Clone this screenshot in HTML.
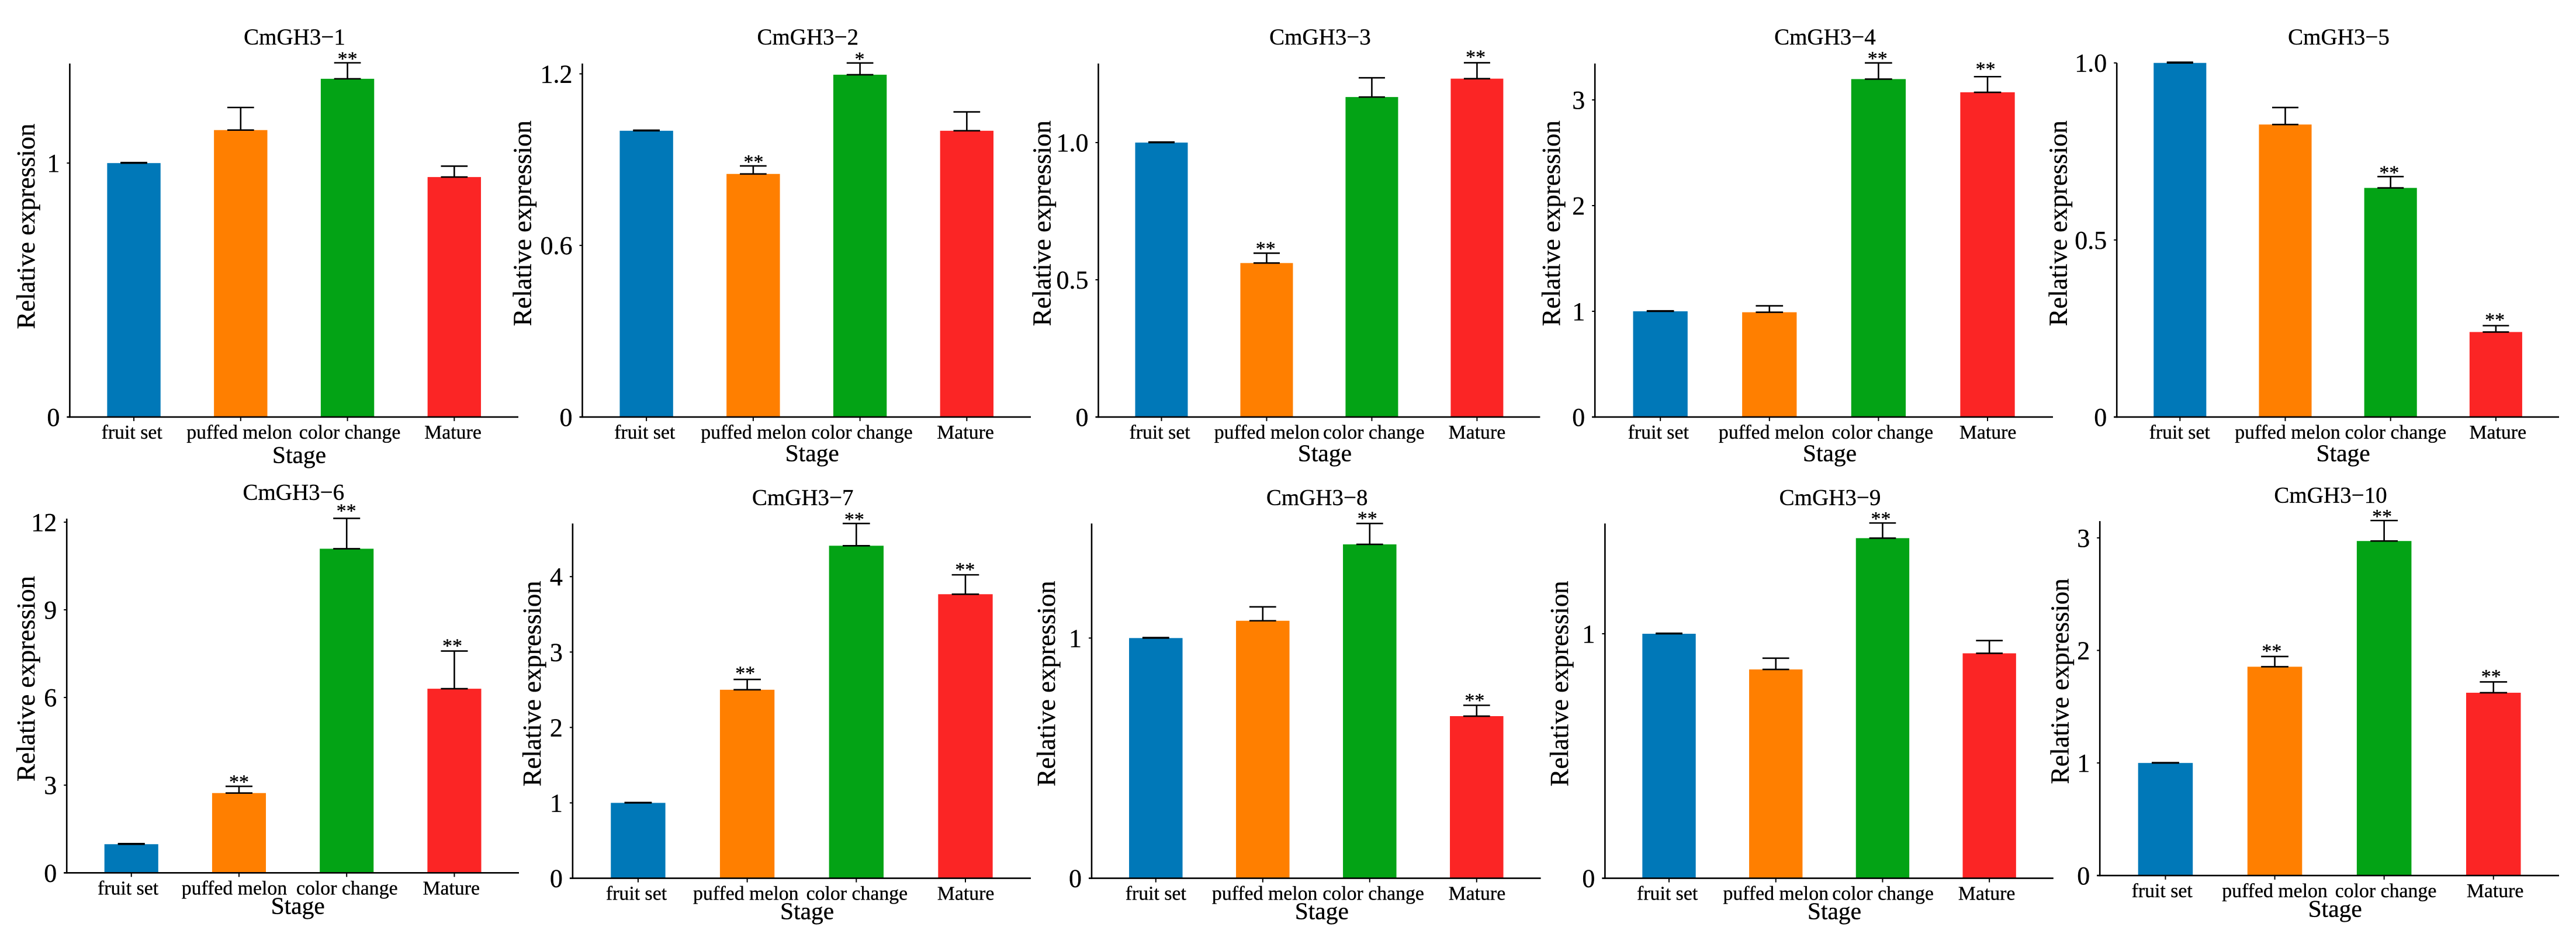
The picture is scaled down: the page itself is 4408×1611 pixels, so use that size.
<!DOCTYPE html>
<html lang="en">
<head>
<meta charset="utf-8">
<title>CmGH3 relative expression</title>
<style>
html,body{margin:0;padding:0;background:#fff;}
svg{display:block;}
text{font-family:"Liberation Serif",serif;fill:#000;stroke:#000;stroke-width:0.35px;}
</style>
</head>
<body>
<svg id="figure" xmlns="http://www.w3.org/2000/svg" width="4408" height="1611" viewBox="0 0 4408 1611">
<rect x="0" y="0" width="4408" height="1611" fill="#ffffff"></rect>
</svg>
<script>
// ---- chart data ----
const categories = ["fruit set", "puffed melon", "color change", "Mature"];
const barColors = ["#0078b8", "#ff7f00", "#03a315", "#fb2525"];
const geneNames = ["CmGH3\u22121","CmGH3\u22122","CmGH3\u22123","CmGH3\u22124","CmGH3\u22125","CmGH3\u22126","CmGH3\u22127","CmGH3\u22128","CmGH3\u22129","CmGH3\u221210"];

const means1 = [1, 1.13, 1.332, 0.945];
const means2 = [1.001, 0.85, 1.197, 1.001];
const means3 = [1, 0.561, 1.166, 1.233];
const means4 = [1, 0.991, 3.197, 3.072];
const means5 = [1, 0.826, 0.647, 0.24];
const means6 = [0.98, 2.73, 11.09, 6.3];
const means7 = [1, 2.5, 4.41, 3.767];
const means8 = [1, 1.072, 1.39, 0.675];
const means9 = [1, 0.854, 1.391, 0.92];
const means10 = [1, 1.855, 2.972, 1.624];

const upper1 = [1.002, 1.219, 1.395, 0.988];
const upper2 = [1.003, 0.878, 1.238, 1.067];
const upper3 = [1.002, 0.597, 1.236, 1.291];
const upper4 = [1.004, 1.052, 3.35, 3.22];
const upper5 = [1.002, 0.874, 0.679, 0.258];
const upper6 = [1, 2.96, 12.13, 7.59];
const upper7 = [1.004, 2.637, 4.705, 4.024];
const upper8 = [1.002, 1.13, 1.477, 0.72];
const upper9 = [1.002, 0.9, 1.453, 0.972];
const upper10 = [1.003, 1.946, 3.154, 1.72];

const sig1 = ["", "", "**", ""];
const sig2 = ["", "**", "*", ""];
const sig3 = ["", "**", "", "**"];
const sig4 = ["", "", "**", "**"];
const sig5 = ["", "", "**", "**"];
const sig6 = ["", "**", "**", "**"];
const sig7 = ["", "**", "**", "**"];
const sig8 = ["", "", "**", "**"];
const sig9 = ["", "", "**", ""];
const sig10 = ["", "**", "**", "**"];

const yMax1 = 1.392, yMax2 = 1.236, yMax3 = 1.288, yMax4 = 3.344, yMax5 = 1.0;
const yMax6 = 12.12, yMax7 = 4.705, yMax8 = 1.477, yMax9 = 1.451, yMax10 = 3.149;

const ticks1 = ["0", "1"];
const ticks2 = ["0", "0.6", "1.2"];
const ticks3 = ["0", "0.5", "1.0"];
const ticks4 = ["0", "1", "2", "3"];
const ticks5 = ["0", "0.5", "1.0"];
const ticks6 = ["0", "3", "6", "9", "12"];
const ticks7 = ["0", "1", "2", "3", "4"];
const ticks8 = ["0", "1"];
const ticks9 = ["0", "1"];
const ticks10 = ["0", "1", "2", "3"];

const meansAll = [means1, means2, means3, means4, means5, means6, means7, means8, means9, means10];
const upperAll = [upper1, upper2, upper3, upper4, upper5, upper6, upper7, upper8, upper9, upper10];
const sigAll = [sig1, sig2, sig3, sig4, sig5, sig6, sig7, sig8, sig9, sig10];
const yMaxAll = [yMax1, yMax2, yMax3, yMax4, yMax5, yMax6, yMax7, yMax8, yMax9, yMax10];
const ticksAll = [ticks1, ticks2, ticks3, ticks4, ticks5, ticks6, ticks7, ticks8, ticks9, ticks10];

// ---- panel frames (layout only, no data) ----
const frames = [
 {l:119.4, r:887,    t:108.8, b:713.9,  tx:504,    ty:75.8,  sx:512,    sy:792.4,  yx:59.1,   yy:387.5},
 {l:996.5, r:1764,   t:108.8, b:713.9,  tx:1382.3, ty:75.8,  sx:1389.7, sy:789.7,  yx:908.7,  yy:382.3},
 {l:1879.5,r:2635.4, t:108.8, b:713.9,  tx:2258.9, ty:75.8,  sx:2266.9, sy:789.7,  yx:1797.4, yy:382.3},
 {l:2729.2,r:3513,   t:108.8, b:713.9,  tx:3122.9, ty:75.8,  sx:3131,   sy:789.7,  yx:2668.9, yy:382.3},
 {l:3622.2,r:4379,   t:107.7, b:713.9,  tx:4002,   ty:75.8,  sx:4009.6, sy:789.7,  yx:3536.5, yy:382.3},
 {l:114.2, r:888,    t:887.9, b:1494.3, tx:502.3,  ty:855.4, sx:509.7,  sy:1564.6, yx:59.1,   yy:1162},
 {l:979.9, r:1764,   t:896.2, b:1503.6, tx:1373.7, ty:864.7, sx:1381.1, sy:1573.4, yx:924.8,  yy:1170.4},
 {l:1868,  r:2636.6, t:896.2, b:1503.6, tx:2253.7, ty:864.7, sx:2261.8, sy:1573.4, yx:1804.9, yy:1170.4},
 {l:2746.4,r:3513.8, t:896.2, b:1503.6, tx:3131.5, ty:864.7, sx:3139,   sy:1573.4, yx:2683.2, yy:1170.4},
 {l:3593.2,r:4379,   t:892.1, b:1498.9, tx:3988,   ty:860.5, sx:3995.7, sy:1569.3, yx:3539.4, yy:1166.3}
];
const labelNudges = [[-3.4,-2.3,4,-2.3],[-2.9,0.6,3.4,-2.3],[-2.9,0.6,3.4,0],[-3.4,3.4,6.9,0.6],[-0.6,4,8.7,3.4],[-5.7,-8,0.6,-5.2],[-2.9,-2.3,1.1,0.6],[0,3.4,6.3,0.6],[-2.9,0,0.6,-4.6],[-5.8,0,2.9,2.9]];
const starNudges = [[0,0,0,0],[0,0.6,-0.6,0],[0,-1.7,0,-2.3],[0,0,-1.7,-3.4],[0,0,-2.3,-1.7],[0,0,-0.6,-3.4],[0,-3.4,-3.4,-0.6],[0,0,-4,-3.4],[0,0,-2.9,0],[0,-5.2,-3.5,-4]];
const starLift = [[0,0,12,0],[0,12,12,0],[0,13,0,15],[0,0,12.5,18],[0,0,12,15],[0,12.5,18,14],[0,15.5,12,14],[0,0,13.5,13.5],[0,0,12.5,0],[0,14.5,12,14.5]];

const NS = "http://www.w3.org/2000/svg";
const root = document.getElementById("figure");

function make(tag, parent, props, content) {
  const el = document.createElementNS(NS, tag);
  for (const k in props) el.setAttribute(k, props[k]);
  if (content !== undefined) el.textContent = content;
  parent.appendChild(el);
  return el;
}
function xPos(f, i) { return f.l + (i + 0.6) * (f.r - f.l) / 4.2; }
function unitW(f) { return (f.r - f.l) / 4.2; }
function yPos(f, v, max) { return f.b - (v / max) * (f.b - f.t); }

geneNames.forEach(function (gene, p) {
  const f = frames[p], max = yMaxAll[p], u = unitW(f);
  const g = make("g", root, {});
  
  

  const title = make("text", g, {x: f.tx, y: f.ty, "text-anchor": "middle", "font-size": 39}, gene);
  
  

  categories.forEach(function (cat, i) {
    const cx = xPos(f, i);
    const top = yPos(f, meansAll[p][i], max);
    const up = yPos(f, upperAll[p][i], max);

    const bar = make("rect", g, {x: cx - u * 0.25, y: top, width: u * 0.5, height: f.b - top, fill: barColors[i]});
    
    

    const stem = make("line", g, {x1: cx, x2: cx, y1: top, y2: up, stroke: "#000", "stroke-width": 2.6});
    
    

    const capTop = make("line", g, {x1: cx - u * 0.125, x2: cx + u * 0.125, y1: up, y2: up, stroke: "#000", "stroke-width": 2.6});
    
    

    const capLow = make("line", g, {x1: cx - u * 0.125, x2: cx + u * 0.125, y1: top, y2: top, stroke: "#000", "stroke-width": 2.6});
    
    

    const mark = sigAll[p][i];
    if (mark) {
      const star = make("text", g, {x: cx + starNudges[p][i], y: up - starLift[p][i] + 16, "text-anchor": "middle", "font-size": 34}, mark);
      
      
    }

    const tick = make("line", g, {x1: cx, x2: cx, y1: f.b, y2: f.b + 7, stroke: "#000", "stroke-width": 2});
    
    

    const lab = make("text", g, {x: cx + labelNudges[p][i], y: f.b + 37, "text-anchor": "middle", "font-size": 33.8}, cat);
    
    
  });

  const yAxis = make("line", g, {x1: f.l, x2: f.l, y1: f.t, y2: f.b + 1.3, stroke: "#000", "stroke-width": 2.6});
  
  

  const xAxis = make("line", g, {x1: f.l - 5, x2: f.r, y1: f.b, y2: f.b, stroke: "#000", "stroke-width": 2.6});
  
  

  ticksAll[p].forEach(function (label) {
    const ty = yPos(f, parseFloat(label), max);
    const tick = make("line", g, {x1: f.l - 5, x2: f.l, y1: ty, y2: ty, stroke: "#000", "stroke-width": 2});
    
    

    const lab = make("text", g, {x: f.l - 17, y: ty + 15, "text-anchor": "end", "font-size": 44}, label);
    
    
  });

  const xTitle = make("text", g, {x: f.sx, y: f.sy, "text-anchor": "middle", "font-size": 41.5}, "Stage");
  
  

  const yTitle = make("text", g, {"text-anchor": "middle", "font-size": 44.8, transform: "translate(" + f.yx + " " + f.yy + ") rotate(-90)"}, "Relative expression");
  
  
});
</script>
</body>
</html>
